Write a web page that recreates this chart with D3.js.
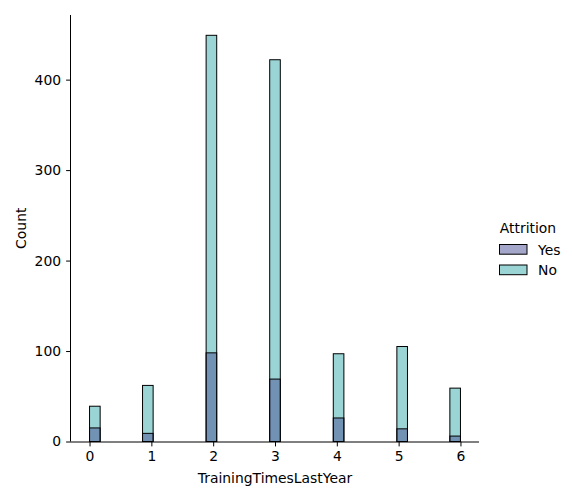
<!DOCTYPE html>
<html>
<head>
<meta charset="utf-8">
<script src="https://cdn.jsdelivr.net/npm/d3@7"></script>
<style>
  body { margin: 0; background: #fff; }
  text { font-family: "DejaVu Sans", sans-serif; fill: #000; }
</style>
</head>
<body>
<svg id="chart" width="572" height="500"></svg>
<script>
// values of TrainingTimesLastYear, and counts per hue
const trainingTimes = [0, 1, 2, 3, 4, 5, 6];
const countYes = [15, 9, 98, 69, 26, 14, 6];
const countNo = [39, 62, 449, 422, 97, 105, 59];
const hues = ["Yes", "No"];
const yTicks = [0, 100, 200, 300, 400];
const nBins = 35;

const colors = { Yes: "#494f93", No: "#37a9a9" };

const svg = d3.select("#chart");
const mLeft = 71, mRight = 479, mTop = 15, mBottom = 441.5;

const lo = d3.min(trainingTimes), hi = d3.max(trainingTimes);
const pad = (hi - lo) * 0.05;
const x = d3.scaleLinear().domain([lo - pad, hi + pad]).range([mLeft, mRight]);
const yMax = d3.max(countNo.concat(countYes)) * 1.05;
const y = d3.scaleLinear().domain([0, yMax]).range([mBottom, mTop]);

const binW = (hi - lo) / nBins;
function binStart(v) {
    let i = Math.floor((v - lo) / binW);
    if (i >= nBins) i = nBins - 1;
    return lo + i * binW;
}

// No drawn first, Yes over it (seaborn layer order)
const series = [
    { name: "No", counts: countNo },
    { name: "Yes", counts: countYes }
];

series.forEach(s => {
    svg.append("g").selectAll("rect")
        .data(trainingTimes.map((v, i) => ({ v: v, c: s.counts[i] })))
        .join("rect")
        .attr("x", d => x(binStart(d.v)))
        .attr("width", d => x(binStart(d.v) + binW) - x(binStart(d.v)))
        .attr("y", d => y(d.c))
        .attr("height", d => y(0) - y(d.c))
        .attr("fill", colors[s.name])
        .attr("fill-opacity", 0.5)
        .attr("stroke", "#000")
        .attr("stroke-width", 1);
});

// axes
const xAxis = d3.axisBottom(x).tickValues(trainingTimes).tickSize(4.9).tickPadding(5).tickFormat(d3.format("d"));
const gx = svg.append("g").attr("transform", `translate(0,${mBottom})`).call(xAxis);
const yAxis = d3.axisLeft(y).tickValues(yTicks).tickSize(4.9).tickPadding(5);
const gy = svg.append("g").attr("transform", `translate(${mLeft},0)`).call(yAxis);

[gx, gy].forEach(g => {
    g.select(".domain").attr("stroke", "#000").attr("stroke-width", 1);
    g.selectAll(".tick line").attr("stroke", "#000").attr("stroke-width", 1);
    g.selectAll(".tick text").attr("font-size", "13.9px").attr("font-family", "DejaVu Sans");
});
gx.select(".domain").attr("d", `M${mLeft},0.5H${mRight}`);
gy.select(".domain").attr("d", `M-0.5,${mBottom}V${mTop}`);

svg.append("text")
    .attr("x", (mLeft + mRight) / 2)
    .attr("y", 483)
    .attr("text-anchor", "middle")
    .attr("font-size", "13.9px")
    .text("TrainingTimesLastYear");

svg.append("text")
    .attr("transform", `translate(26,${(mTop + mBottom) / 2}) rotate(-90)`)
    .attr("text-anchor", "middle")
    .attr("font-size", "13.9px")
    .text("Count");

// legend
const lg = svg.append("g");
lg.append("text")
    .attr("x", 528)
    .attr("y", 233)
    .attr("text-anchor", "middle")
    .attr("font-size", "13.9px")
    .text("Attrition");

hues.forEach((h, i) => {
    const yy = 249.5 + i * 20.5;
    lg.append("rect")
        .attr("x", 499.5)
        .attr("y", yy - 5)
        .attr("width", 27.5)
        .attr("height", 9.7)
        .attr("fill", colors[h])
        .attr("fill-opacity", 0.5)
        .attr("stroke", "#000")
        .attr("stroke-width", 1);
    lg.append("text")
        .attr("x", 538)
        .attr("y", yy + 5)
        .attr("font-size", "13.9px")
        .text(h);
});
</script>
</body>
</html>
